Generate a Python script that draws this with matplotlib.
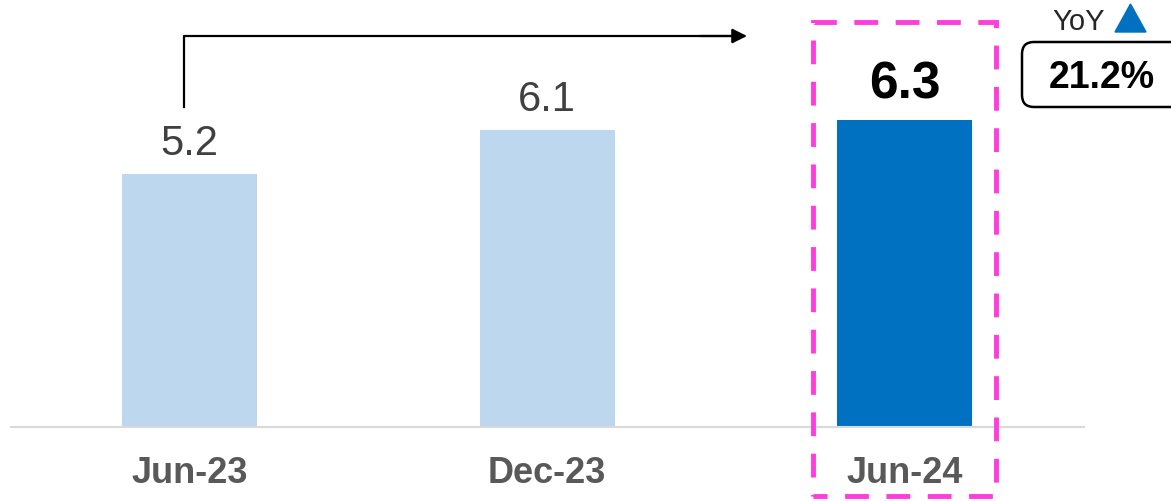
import matplotlib
matplotlib.use("Agg")
import matplotlib.pyplot as plt
from matplotlib.patches import Rectangle, FancyBboxPatch, Polygon, FancyArrowPatch
from matplotlib.lines import Line2D
from matplotlib.transforms import IdentityTransform

periods = ["Jun-23", "Dec-23", "Jun-24"]
values = [5.2, 6.1, 6.3]
yoy_label = "21.2%"

plt.rcParams['font.family'] = ['Liberation Sans', 'DejaVu Sans']

W, H = 1171, 502
fig = plt.figure(figsize=(W / 100, H / 100), dpi=100)

# axes placed in pixel terms: baseline at y=428 from the top
ax = fig.add_axes([11 / W, 74 / H, 1072.5 / W, 428 / H])
ax.set_xlim(-0.5, 2.5)
ax.set_ylim(0, 428 / 48.7)
for s in ["top", "right", "left"]:
    ax.spines[s].set_visible(False)
ax.spines["bottom"].set_color("#D9D9D9")
ax.spines["bottom"].set_linewidth(1.5)
ax.set_yticks([])
ax.set_xticks([])

colors = ["#BDD7EE", "#BDD7EE", "#0070C0"]
bars = ax.bar(range(len(values)), values, width=0.378, color=colors, zorder=2)

for i, v in enumerate(values):
    last = i == len(values) - 1
    ax.annotate(f"{v:.1f}", xy=(i, v), xytext=(0, 16.5 if last else 14.5),
                textcoords="offset points", ha="center", va="baseline",
                fontsize=37 if last else 30,
                fontweight="bold" if last else "normal",
                color="black" if last else "#404040")
    ax.annotate(periods[i], xy=(i, 0), xycoords=("data", "axes fraction"),
                xytext=(0, -39.6), textcoords="offset points",
                ha="center", va="baseline", fontsize=26, fontweight="bold",
                color="#595959", annotation_clip=False)

# everything below is drawn in pixel coordinates (origin top-left)
px = IdentityTransform()


def P(x, y):
    return (x, H - y)


# dashed highlight around the latest bar
x0, y0 = P(813, 497)
hl = Rectangle((x0, y0), 996 - 813, 497 - 23, transform=px, fill=False,
               edgecolor="#FF3CDC", linewidth=3.5, linestyle=(2, (4.9, 3.6)))
fig.add_artist(hl)

# elbow arrow from the first bar to the latest
fig.add_artist(Line2D([P(184, 108)[0], P(184, 37)[0], P(730, 37)[0]],
                      [P(184, 108)[1], P(184, 37)[1], P(730, 37)[1]],
                      transform=px, color="black", linewidth=1.6))
fig.add_artist(FancyArrowPatch(P(700, 37), P(747, 37), transform=px,
                               arrowstyle="-|>", mutation_scale=22,
                               color="black", linewidth=1.6, shrinkA=0, shrinkB=0))

# YoY box (runs off the right edge)
bx, by = P(1022, 108)
fig.add_artist(FancyBboxPatch((bx, by), 190, 65, transform=px,
                              boxstyle="round,pad=0,rounding_size=12",
                              fill=False, edgecolor="black", linewidth=1.8))
fig.text(*P(1102, 78), yoy_label, transform=px, ha="center", va="center",
         fontsize=27, fontweight="bold", color="black")
fig.text(*P(1079, 22), "YoY", transform=px, ha="center", va="center",
         fontsize=21, color="#262626")
fig.add_artist(Polygon([P(1115, 33), P(1146, 33), P(1130.5, 5)], transform=px,
                       closed=True, color="#0070C0"))

fig.savefig("out.png", dpi=100)
